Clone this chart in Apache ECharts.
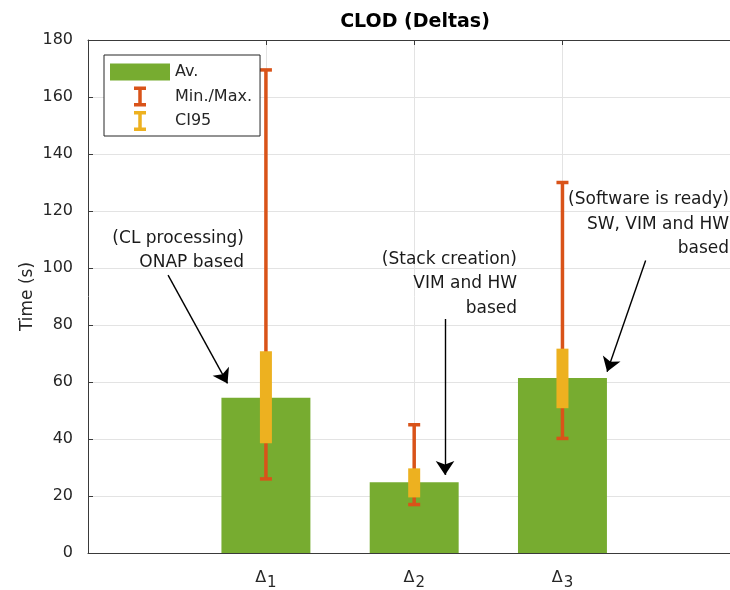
<!DOCTYPE html>
<html><head><meta charset="utf-8">
<script src="https://cdn.jsdelivr.net/npm/echarts@6/dist/echarts.min.js"></script>
<style>html,body{margin:0;padding:0;background:#fff}#c{width:730px;height:590px}</style>
</head><body><div id="c"></div>
<script>
// ---- data ----
const categories = ['Δ1', 'Δ2', 'Δ3'];
const categoryPositions = [1, 2, 3];
const avgValues = [54.5, 24.8, 61.4];
const minValues = [26, 17, 40.2];
const maxValues = [169.5, 45, 130];
const ci95Low = [38.5, 19.5, 50.8];
const ci95High = [70.8, 29.7, 71.7];
const yTickValues = [0, 20, 40, 60, 80, 100, 120, 140, 160, 180];
const seriesNames = ['Av.', 'Min./Max.', 'CI95'];
const annotationTexts = [
  '(CL processing)\nONAP based',
  '(Stack creation)\nVIM and HW\nbased',
  '(Software is ready)\nSW, VIM and HW\nbased'
];
const arrowFrom = [[0.34, 97.5], [2.208, 82.1], [3.561, 102.6]];
const arrowTo = [[0.741, 59.5], [2.208, 27.4], [3.301, 63.6]];

// ---- style ----
const FONT = 'DejaVu Sans';
const GREEN = '#77AC30', ORANGE = '#D95319', YELLOW = '#EDB120';
const AXIS = '#3a3a3a', GRID = '#e3e3e3', TXT = '#262626';
const BAR_W = 0.6;

const chart = echarts.init(document.getElementById('c'), null, {renderer: 'canvas'});

const barData = categoryPositions.map((x, i) => [x, avgValues[i]]);
const mmData = categoryPositions.map((x, i) => [x, minValues[i], maxValues[i]]);
const ciData = categoryPositions.map((x, i) => [x, ci95Low[i], ci95High[i]]);

const iBar = 'path://M0,0 M60,20 M24,0 L36,0 L36,3.5 L31.75,3.5 L31.75,16.5 L36,16.5 L36,20 L24,20 L24,16.5 L28.25,16.5 L28.25,3.5 L24,3.5 Z';
const rectIcon = 'path://M0,0 M60,20 M0,1.5 L60,1.5 L60,18.5 L0,18.5 Z';

const xCommon = {
  type: 'value', min: -0.2, max: 4.13,
  axisLine: {show: true, onZero: false, lineStyle: {color: AXIS, width: 1}},
  axisTick: {show: true, inside: true, length: 5, customValues: categoryPositions, lineStyle: {color: AXIS}},
};

const option = {
  animation: false,
  backgroundColor: '#fff',
  title: {
    text: 'CLOD (Deltas)', left: 415, top: 13, padding: 0, textAlign: 'center',
    textStyle: {fontFamily: FONT, fontWeight: 'bold', fontSize: 19, color: '#000'}
  },
  grid: {left: 88, top: 40, right: 0, bottom: 37, containLabel: false, outerBoundsMode: 'none'},
  legend: {
    orient: 'vertical', left: 104, top: 55,
    padding: [7, 8, 5, 6], itemGap: 4.5, itemWidth: 60, itemHeight: 20,
    backgroundColor: '#fff', borderColor: '#262626', borderWidth: 1,
    textStyle: {fontFamily: FONT, fontSize: 16, color: TXT},
    selectedMode: false,
    data: [
      {name: seriesNames[0], icon: rectIcon},
      {name: seriesNames[1], icon: iBar},
      {name: seriesNames[2], icon: iBar}
    ]
  },
  xAxis: [
    Object.assign({}, xCommon, {
      position: 'bottom',
      axisLabel: {
        customValues: categoryPositions, margin: 11,
        formatter: v => {
          const c = categories[categoryPositions.indexOf(v)] || '';
          return '{d|' + c.charAt(0) + '}{s|' + c.slice(1) + '}';
        },
        rich: {
          d: {fontFamily: FONT, fontSize: 16, color: TXT},
          s: {fontFamily: FONT, fontSize: 15, color: TXT, padding: [12, 0, 0, 1]}
        }
      },
      splitLine: {show: true, lineStyle: {color: GRID, width: 1}}
    }),
    Object.assign({}, xCommon, {
      position: 'top',
      axisLabel: {show: false},
      splitLine: {show: false}
    })
  ],
  yAxis: {
    type: 'value', min: yTickValues[0], max: yTickValues[yTickValues.length - 1], interval: 20,
    name: 'Time (s)', nameLocation: 'middle', nameGap: 52, nameMoveOverlap: false,
    nameTextStyle: {fontFamily: FONT, fontSize: 17, color: TXT},
    axisLine: {show: true, onZero: false, lineStyle: {color: AXIS, width: 1}},
    axisTick: {show: true, inside: true, length: 5, lineStyle: {color: AXIS}},
    axisLabel: {fontFamily: FONT, fontSize: 16, color: TXT, margin: 15},
    splitLine: {show: true, lineStyle: {color: GRID, width: 1}}
  },
  series: [
    {
      name: seriesNames[0], type: 'custom', xAxisIndex: 0, yAxisIndex: 0,
      itemStyle: {color: GREEN},
      encode: {x: 0, y: 1},
      data: barData,
      renderItem: (params, api) => {
        const x = api.value(0), y = api.value(1);
        const p = api.coord([x, y]), p0 = api.coord([x, 0]);
        const w = api.size([BAR_W, 0])[0];
        return {type: 'rect', shape: {x: p[0] - w / 2, y: p[1], width: w, height: p0[1] - p[1]},
                style: {fill: GREEN}};
      },
      z: 2,
      markLine: {
        silent: true, symbol: ['none', 'arrow'], symbolSize: 14,
        lineStyle: {color: '#000', width: 1.4, type: 'solid'},
        label: {show: false}, emphasis: {disabled: true},
        animation: false,
        data: arrowFrom.map((f, i) => [{coord: f}, {coord: arrowTo[i]}])
      }
    },
    {
      name: seriesNames[1], type: 'custom', xAxisIndex: 0, yAxisIndex: 0,
      itemStyle: {color: ORANGE},
      encode: {x: 0, y: [1, 2]},
      data: mmData,
      renderItem: (params, api) => {
        const x = api.value(0);
        const lo = api.coord([x, api.value(1)]), hi = api.coord([x, api.value(2)]);
        const cw = 12, t = 3.5;
        return {type: 'group', children: [
          {type: 'rect', shape: {x: lo[0] - t / 2, y: hi[1], width: t, height: lo[1] - hi[1]}, style: {fill: ORANGE}},
          {type: 'rect', shape: {x: hi[0] - cw / 2, y: hi[1] - t / 2, width: cw, height: t}, style: {fill: ORANGE}},
          {type: 'rect', shape: {x: lo[0] - cw / 2, y: lo[1] - t / 2, width: cw, height: t}, style: {fill: ORANGE}}
        ]};
      },
      z: 3
    },
    {
      name: seriesNames[2], type: 'custom', xAxisIndex: 0, yAxisIndex: 0,
      itemStyle: {color: YELLOW},
      encode: {x: 0, y: [1, 2]},
      data: ciData,
      renderItem: (params, api) => {
        const x = api.value(0);
        const lo = api.coord([x, api.value(1)]), hi = api.coord([x, api.value(2)]);
        const w = 12;
        return {type: 'rect', shape: {x: lo[0] - w / 2, y: hi[1], width: w, height: lo[1] - hi[1]}, style: {fill: YELLOW}};
      },
      z: 4
    }
  ],
  graphic: [
    {type: 'text', x: 244, y: 250.5, z: 10, style: {text: annotationTexts[0], align: 'right', verticalAlign: 'middle', lineHeight: 24.5, fontFamily: FONT, fontSize: 17, fill: '#1a1a1a'}},
    {type: 'text', x: 517, y: 284, z: 10, style: {text: annotationTexts[1], align: 'right', verticalAlign: 'middle', lineHeight: 24.5, fontFamily: FONT, fontSize: 17, fill: '#1a1a1a'}},
    {type: 'text', x: 729, y: 224.5, z: 10, style: {text: annotationTexts[2], align: 'right', verticalAlign: 'middle', lineHeight: 24.5, fontFamily: FONT, fontSize: 17, fill: '#1a1a1a'}}
  ]
};
chart.setOption(option);
</script>
</body></html>
